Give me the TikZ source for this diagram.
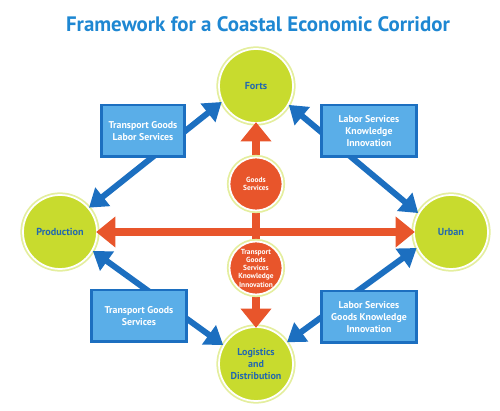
\documentclass[tikz,border=0pt]{standalone}
\usepackage{fontspec}
\setmainfont{PT Sans}
\usetikzlibrary{arrows.meta}
\definecolor{cgreen}{HTML}{C8DB2E}
\definecolor{cring}{HTML}{E4EE9E}
\definecolor{corange}{HTML}{E8552B}
\definecolor{cblue}{HTML}{1C6FC0}
\definecolor{cbox}{HTML}{5AAEE8}
\definecolor{ctitle}{HTML}{1E87D2}
\definecolor{ctext}{HTML}{2369AE}
\tikzstyle{hub} = [circle,fill=cgreen,draw=white,line width=1pt,minimum size=1.48cm,inner sep=0pt,align=center,text=ctext,font=\bfseries\fontsize{5.8}{6.6}\selectfont,preaction={draw=cring,line width=3pt}]
\tikzstyle{link} = [circle,fill=corange,draw=white,line width=1pt,minimum size=1.06cm,inner sep=0pt,align=center,text=white,font=\bfseries\fontsize{4.2}{4.7}\selectfont,preaction={draw=cring,line width=3pt}]
\tikzstyle{tag} = [rectangle,fill=cbox,draw=cblue,line width=1.7pt,inner sep=0pt,align=center,text=white,font=\bfseries\fontsize{5.6}{7}\selectfont,minimum height=1.04cm]
\tikzstyle{flow} = [line width=5pt,draw=corange,{Triangle[length=11pt,width=17pt]}-{Triangle[length=11pt,width=17pt]},shorten <=-1pt,shorten >=-1pt]
\tikzstyle{trade} = [line width=3.4pt,draw=cblue,{Triangle[length=10pt,width=13pt]}-{Triangle[length=10pt,width=13pt]}]

\begin{document}
\begin{tikzpicture}[x=0.02cm,y=-0.02cm]
	\useasboundingbox (0,0) rectangle (500,411);
	\node (title) at (258,24) [text=ctitle,font=\bfseries\fontsize{11.9}{13}\selectfont] {Framework for a Coastal Economic Corridor};
	% the four hubs
	\node (forts) at (256,86) [hub] {Forts};
	\node (prod) at (60,232) [hub] {Production};
	\node (urban) at (451,232) [hub] {Urban};
	\node (logi) at (256,364) [hub,font=\bfseries\fontsize{5.7}{6.6}\selectfont] {Logistics\\and\\Distribution};
	% blue and orange flows
	\draw [trade] (prod.40) -- (forts.205);
	\draw [trade] (forts.-30) -- (urban.150);
	\draw [trade] (prod.-30) -- (logi.150);
	\draw [trade] (logi.35) -- (urban.205);
	\draw [flow] (forts) -- (logi);
	\draw [flow] (prod) -- (urban);
	% what moves along them
	\node (up) at (256,184) [link] {Goods\\Services};
	\node (down) at (256,268) [link] {Transport\\Goods\\Services\\Knowledge\\Innovation};
	\node (tl) at (143,131) [tag,minimum width=1.66cm] {Transport Goods\\Labor Services};
	\node (tr) at (369,131) [tag,minimum width=1.9cm] {Labor Services\\Knowledge\\Innovation};
	\node (bl) at (139,316) [tag,minimum width=1.9cm] {Transport Goods\\Services};
	\node (br) at (369,317) [tag,minimum width=1.9cm] {Labor Services\\Goods Knowledge\\Innovation};
\end{tikzpicture}
\end{document}
